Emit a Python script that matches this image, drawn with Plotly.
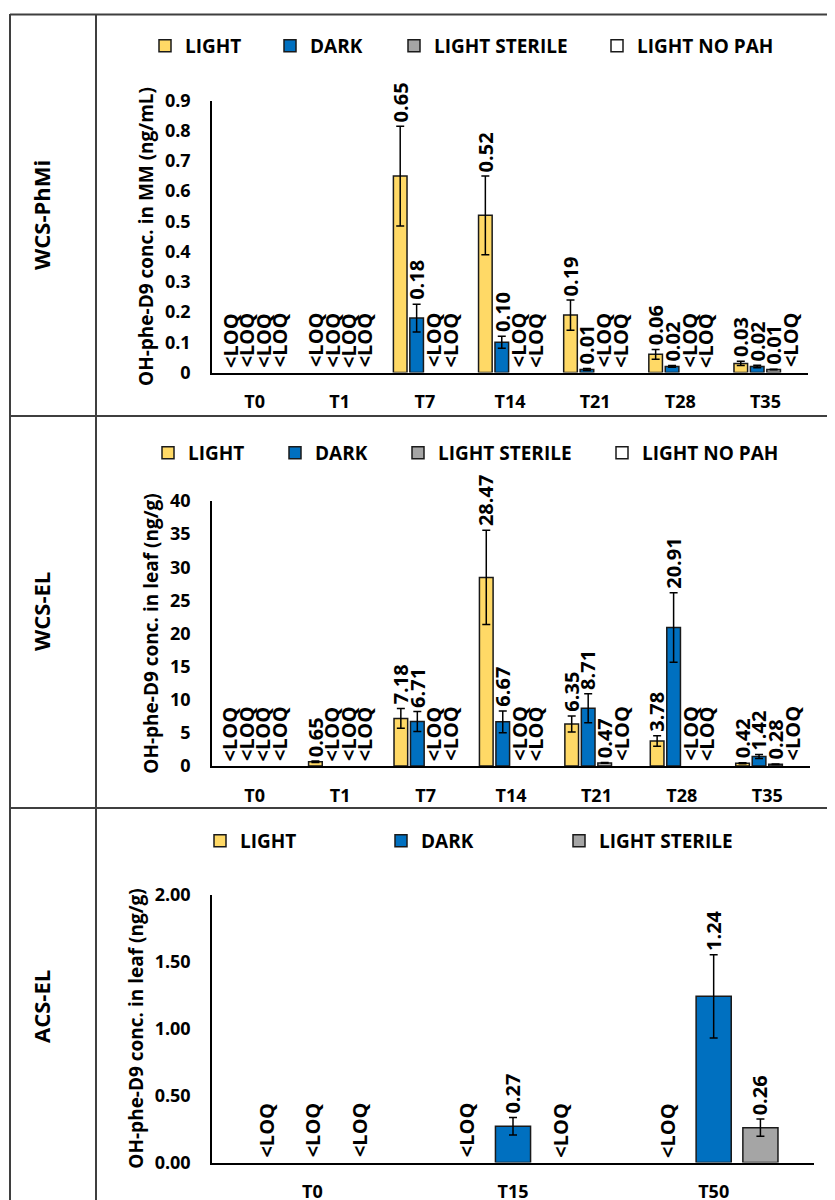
import plotly.graph_objects as go

# ---------------- data ----------------
TIMES_WCS = ["T0", "T1", "T7", "T14", "T21", "T28", "T35"]
TIMES_ACS = ["T0", "T15", "T50"]

SERIES_NAMES = ["LIGHT", "DARK", "LIGHT STERILE", "LIGHT NO PAH"]
SERIES_COLORS = ["#FFD966", "#0070C0", "#A5A5A5", "#FFFFFF"]

# WCS-PhMi : OH-phe-D9 conc. in MM (ng/mL); None = <LOQ
PHMI_LIGHT = [None, None, 0.65, 0.52, 0.19, 0.06, 0.03]
PHMI_LIGHT_ERR = [None, None, 0.165, 0.13, 0.05, 0.016, 0.007]
PHMI_DARK = [None, None, 0.18, 0.10, 0.01, 0.02, 0.02]
PHMI_DARK_ERR = [None, None, 0.046, 0.02, 0.003, 0.003, 0.004]
PHMI_STERILE = [None, None, None, None, None, None, 0.01]
PHMI_STERILE_ERR = [None, None, None, None, None, None, 0.001]
PHMI_NOPAH = [None, None, None, None, None, None, None]
PHMI_NOPAH_ERR = [None, None, None, None, None, None, None]

# WCS-EL : OH-phe-D9 conc. in leaf (ng/g)
EL_LIGHT = [None, 0.65, 7.18, 28.47, 6.35, 3.78, 0.42]
EL_LIGHT_ERR = [None, 0.12, 1.5, 7.1, 1.2, 0.8, 0.08]
EL_DARK = [None, None, 6.71, 6.67, 8.71, 20.91, 1.42]
EL_DARK_ERR = [None, None, 1.5, 1.65, 2.2, 5.25, 0.3]
EL_STERILE = [None, None, None, None, 0.47, None, 0.28]
EL_STERILE_ERR = [None, None, None, None, 0.05, None, 0.04]
EL_NOPAH = [None, None, None, None, None, None, None]
EL_NOPAH_ERR = [None, None, None, None, None, None, None]

# ACS-EL : OH-phe-D9 conc. in leaf (ng/g)
ACS_LIGHT = [None, None, None]
ACS_LIGHT_ERR = [None, None, None]
ACS_DARK = [None, 0.27, 1.24]
ACS_DARK_ERR = [None, 0.065, 0.31]
ACS_STERILE = [None, None, 0.26]
ACS_STERILE_ERR = [None, None, 0.065]

# ---------------- layout helpers ----------------
W, H = 835, 1200
OFF = 8  # page body margin: figure origin sits 8px from the page corner
FONT = "Open Sans"
INK = "#000000"
GRID = "#3f3f3f"


def px_x(v):
    return (v - OFF) / W


def px_y(v):
    return 1 - (v - OFF) / H


panels = [
    dict(label="WCS-PhMi", times=TIMES_WCS,
         values=[PHMI_LIGHT, PHMI_DARK, PHMI_STERILE, PHMI_NOPAH],
         errors=[PHMI_LIGHT_ERR, PHMI_DARK_ERR, PHMI_STERILE_ERR, PHMI_NOPAH_ERR],
         ytitle="OH-phe-D9 conc. in MM (ng/mL)", yrange=[0, 0.9], dtick=0.1, fmt="",
         box=(212, 808, 100.5, 372.5), pitch=0.193, barw=0.16,
         legend_y=46, legend_text_x=[187, 312, 436, 639], row_y=215),
    dict(label="WCS-EL", times=TIMES_WCS,
         values=[EL_LIGHT, EL_DARK, EL_STERILE, EL_NOPAH],
         errors=[EL_LIGHT_ERR, EL_DARK_ERR, EL_STERILE_ERR, EL_NOPAH_ERR],
         ytitle="OH-phe-D9 conc. in leaf (ng/g)", yrange=[0, 40], dtick=5, fmt="",
         box=(212, 810, 501, 766), pitch=0.193, barw=0.16,
         legend_y=453, legend_text_x=[190, 317, 440, 644], row_y=612),
    dict(label="ACS-EL", times=TIMES_ACS,
         values=[ACS_LIGHT, ACS_DARK, ACS_STERILE],
         errors=[ACS_LIGHT_ERR, ACS_DARK_ERR, ACS_STERILE_ERR],
         ytitle="OH-phe-D9 conc. in leaf (ng/g)", yrange=[0, 2], dtick=0.5, fmt=".2f",
         box=(212, 814, 894.5, 1162.5), pitch=0.233, barw=0.175,
         legend_y=841, legend_text_x=[242, 423, 601], row_y=1007),
]

fig = go.Figure()
layout = dict(
    width=W, height=H, template="none",
    margin=dict(l=0, r=0, t=0, b=0),
    paper_bgcolor="white", plot_bgcolor="white",
    barmode="overlay", showlegend=True,
    font=dict(family=FONT, size=18, color=INK),
)
annotations = []
shapes = []
legend_count = 0

for pi, p in enumerate(panels):
    sfx = "" if pi == 0 else str(pi + 1)
    xa, ya = "x" + sfx, "y" + sfx
    x0, x1, yt, yb = p["box"]
    n = len(p["values"])
    centers = [(i - (n - 1) / 2) * p["pitch"] for i in range(n)]

    layout["xaxis" + sfx] = dict(
        domain=[px_x(x0), px_x(x1)], anchor=ya, type="category",
        categoryorder="array", categoryarray=p["times"],
        range=[-0.5, len(p["times"]) - 0.5],
        showline=True, linecolor=INK, linewidth=2, ticks="", showgrid=False,
        zeroline=False, ticklabelstandoff=12,
        tickfont=dict(family=FONT, size=18, weight="bold", color=INK),
    )
    layout["yaxis" + sfx] = dict(
        domain=[px_y(yb), px_y(yt)], anchor=xa, range=p["yrange"], dtick=p["dtick"],
        tick0=0, tickformat=p["fmt"], showline=True, linecolor=INK, linewidth=1.5,
        ticks="", showgrid=False, zeroline=False, ticklabelstandoff=16,
        tickfont=dict(family=FONT, size=18, weight="bold", color=INK),
        title=dict(text=p["ytitle"], standoff=6,
                   font=dict(family=FONT, size=19, weight="bold", color=INK)),
    )

    for si in range(n):
        legend_count += 1
        lkey = "legend" if legend_count == 1 else "legend%d" % legend_count
        vals, errs = p["values"][si], p["errors"][si]
        fig.add_trace(go.Bar(
            x=p["times"], y=vals, name=SERIES_NAMES[si], legend=lkey,
            xaxis=xa, yaxis=ya, offset=centers[si] - p["barw"] / 2, width=p["barw"],
            marker=dict(color=SERIES_COLORS[si], line=dict(color="#1a1a1a", width=1.5)),
            error_y=dict(type="data", array=errs, visible=True, color=INK,
                         thickness=1.5, width=4),
            cliponaxis=False,
        ))
        layout[lkey] = dict(
            x=px_x(p["legend_text_x"][si] - 42), y=px_y(p["legend_y"]),
            xanchor="left", yanchor="middle", orientation="h",
            bgcolor="rgba(0,0,0,0)", borderwidth=0,
            font=dict(family=FONT, size=19, weight="bold", color=INK),
        )
        # data labels (value or <LOQ), rotated, above bar / error bar
        for ci, v in enumerate(vals):
            e = errs[ci]
            if v is None:
                txt, ybase, shift = "<LOQ", 0, 4
            else:
                txt = "%.2f" % v
                ybase = v + (e or 0)
                shift = 3
            annotations.append(dict(
                x=ci + centers[si], y=ybase, xref=xa, yref=ya, text=txt,
                textangle=-90, showarrow=False, xanchor="center", yanchor="bottom",
                yshift=shift, borderpad=0,
                font=dict(family=FONT, size=20, weight="bold", color=INK),
            ))

    # row label in the left column
    annotations.append(dict(
        x=px_x(41), y=px_y(p["row_y"]), xref="paper", yref="paper", text=p["label"],
        textangle=-90, showarrow=False, xanchor="center", yanchor="middle",
        font=dict(family=FONT, size=22, weight="bold", color=INK),
    ))


# table frame
def hline(y, xa_, xb_):
    shapes.append(dict(type="line", xref="paper", yref="paper",
                       x0=px_x(xa_), x1=xb_, y0=px_y(y), y1=px_y(y),
                       line=dict(color=GRID, width=2)))


def vline(x, ya_):
    shapes.append(dict(type="line", xref="paper", yref="paper",
                       x0=px_x(x), x1=px_x(x), y0=px_y(ya_), y1=0,
                       line=dict(color=GRID, width=2)))


hline(14.5, 10, 1)
hline(416, 10, 1)
hline(808, 10, 1)
vline(10, 14)
vline(96, 14)

layout["annotations"] = annotations
layout["shapes"] = shapes
fig.update_layout(**layout)

fig.write_html("out.html")
